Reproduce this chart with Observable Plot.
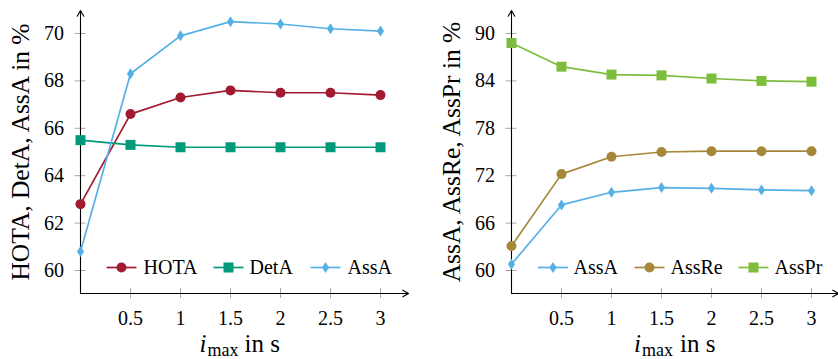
<!DOCTYPE html>
<html><head><meta charset="utf-8">
<script src="https://cdn.jsdelivr.net/npm/d3@7"></script>
<script src="https://cdn.jsdelivr.net/npm/@observablehq/plot@0.6"></script>
<style>
body{margin:0;background:#fff;}
#wrap{display:flex;width:838px;height:359px;}
</style></head><body><div id="wrap"></div>
<script>
const imax = [0, 0.5, 1, 1.5, 2, 2.5, 3];
const hota = [62.8, 66.6, 67.3, 67.6, 67.5, 67.5, 67.4];
const deta = [65.5, 65.3, 65.2, 65.2, 65.2, 65.2, 65.2];
const assa = [60.8, 68.3, 69.9, 70.5, 70.4, 70.2, 70.1];
const assre = [63.1, 72.2, 74.4, 75.0, 75.1, 75.1, 75.1];
const asspr = [88.8, 85.8, 84.8, 84.7, 84.3, 84.0, 83.9];
const xTicks = [0.5, 1, 1.5, 2, 2.5, 3];
const leftYTicks = [60, 62, 64, 66, 68, 70];
const rightYTicks = [60, 66, 72, 78, 84, 90];
const leftLabel = "HOTA, DetA, AssA in %";
const rightLabel = "AssA, AssRe, AssPr in %";

const circle = {draw(c){ c.moveTo(5,0); c.arc(0,0,5,0,2*Math.PI); c.closePath(); }};
const square = {draw(c){ c.rect(-5,-5,10,10); }};
const diamond = {draw(c){ c.moveTo(0,-5.5); c.lineTo(3.6,0); c.lineTo(0,5.5); c.lineTo(-3.6,0); c.closePath(); }};
const seg = {draw(c){ c.moveTo(-15,0); c.lineTo(15,0); }};

const colors = {HOTA:"#a21a30", DetA:"#00997b", AssA:"#56b0e6", AssRe:"#a8873a", AssPr:"#7dbd3c"};
const symbols = {HOTA:circle, DetA:square, AssA:diamond, AssRe:circle, AssPr:square};

function chart({width, marginLeft, marginRight, xmax, ydomain, yticks, series, ylabel, legendPos, xl}) {
  const height = 359, marginTop = 10, marginBottom = 66;
  const marks = [];
  marks.push(Plot.axisY(yticks, {tickSize: 11, dx: 5.5, tickPadding: 11, stroke: "#a8a8a8", fontSize: 20, label: null, tickFormat: d => String(d)}));
  marks.push(Plot.axisX(xTicks, {tickSize: 10, dy: -5, tickPadding: 12, stroke: "#a8a8a8", fontSize: 20, label: null, tickFormat: d => String(d)}));
  marks.push(Plot.arrow([{x1: 0, y1: ydomain[0], x2: xmax, y2: ydomain[0]}], {x1: "x1", y1: "y1", x2: "x2", y2: "y2", headLength: 9, headAngle: 60, strokeWidth: 1.1, stroke: "black"}));
  marks.push(Plot.arrow([{x1: 0, y1: ydomain[0], x2: 0, y2: ydomain[1]}], {x1: "x1", y1: "y1", x2: "x2", y2: "y2", headLength: 9, headAngle: 60, strokeWidth: 1.1, stroke: "black"}));
  series.forEach(s => {
    const rows = imax.map((x, i) => ({x, y: s.values[i]}));
    marks.push(Plot.line(rows, {x: "x", y: "y", stroke: colors[s.name], strokeWidth: 1.7}));
    marks.push(Plot.dot(rows, {x: "x", y: "y", symbol: symbols[s.name], fill: colors[s.name], stroke: "none"}));
  });
  series.forEach((s, k) => {
    const p = legendPos[k];
    marks.push(Plot.dot([0], {frameAnchor: "bottom-left", dx: p[0], dy: -26, symbol: seg, fill: "none", stroke: colors[s.name], strokeWidth: 1.7}));
    marks.push(Plot.dot([0], {frameAnchor: "bottom-left", dx: p[0], dy: -26, symbol: symbols[s.name], fill: colors[s.name], stroke: "none"}));
    marks.push(Plot.text([s.name], {frameAnchor: "bottom-left", dx: p[1], dy: -26, textAnchor: "start", lineAnchor: "middle", fontSize: 20}));
  });
  marks.push(Plot.text([ylabel], {frameAnchor: "left", rotate: -90, dx: -52, textAnchor: "middle", lineAnchor: "bottom", fontSize: 25.5}));
  marks.push(Plot.text(["i"], {frameAnchor: "bottom", dx: xl[0], dy: 58, textAnchor: "start", lineAnchor: "bottom", fontSize: 25, fontStyle: "italic"}));
  marks.push(Plot.text(["max"], {frameAnchor: "bottom", dx: xl[1], dy: 62, textAnchor: "start", lineAnchor: "bottom", fontSize: 18}));
  marks.push(Plot.text(["in s"], {frameAnchor: "bottom", dx: xl[2], dy: 58, textAnchor: "start", lineAnchor: "bottom", fontSize: 25}));
  return Plot.plot({
    width, height, marginTop, marginBottom, marginLeft, marginRight,
    x: {domain: [0, xmax]},
    y: {domain: ydomain},
    style: {fontFamily: "'Liberation Serif', serif", fontSize: "20px", overflow: "visible", background: "white"},
    marks
  });
}

const wrap = document.getElementById("wrap");
wrap.append(chart({
  width: 420, marginLeft: 80, marginRight: 12, xmax: 3.28,
  ydomain: [59.03, 70.97], yticks: leftYTicks,
  series: [{name: "HOTA", values: hota}, {name: "DetA", values: deta}, {name: "AssA", values: assa}],
  ylabel: leftLabel, legendPos: [[41, 63], [148, 169], [245, 267]], xl: [-45, -37, 0]
}));
wrap.append(chart({
  width: 418, marginLeft: 91, marginRight: 0, xmax: 3.27,
  ydomain: [57.09, 92.91], yticks: rightYTicks,
  series: [{name: "AssA", values: assa}, {name: "AssRe", values: assre}, {name: "AssPr", values: asspr}],
  ylabel: rightLabel, legendPos: [[41.5, 62], [138, 159], [242, 263]], xl: [-41, -33, 5]
}));
</script></body></html>
